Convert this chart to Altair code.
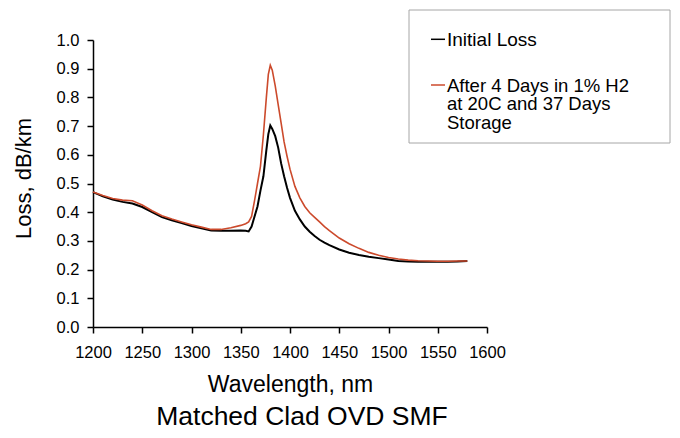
import altair as alt
import pandas as pd

wavelength = [1200, 1210, 1220, 1230, 1240, 1250, 1260, 1270, 1280, 1290, 1300, 1310,
              1320, 1330, 1340, 1350, 1355, 1358, 1361, 1364, 1367, 1370, 1373, 1376,
              1378, 1380, 1382, 1385, 1388, 1391, 1394, 1397, 1400, 1405, 1410, 1415,
              1420, 1425, 1430, 1435, 1440, 1450, 1460, 1470, 1480, 1490, 1500, 1510, 1520,
              1530, 1540, 1550, 1560, 1570, 1580]

initial_loss = [0.470, 0.455, 0.444, 0.436, 0.430, 0.418, 0.400, 0.383, 0.372, 0.362, 0.352, 0.344,
                0.336, 0.335, 0.335, 0.336, 0.335, 0.333, 0.350, 0.385, 0.420, 0.475, 0.525, 0.616,
                0.672, 0.702, 0.690, 0.665, 0.625, 0.570, 0.525, 0.485, 0.450, 0.405, 0.375, 0.350,
                0.332, 0.317, 0.304, 0.294, 0.285, 0.270, 0.259, 0.251, 0.245, 0.240, 0.235, 0.230, 0.228,
                0.227, 0.227, 0.227, 0.227, 0.228, 0.230]

after_h2 = [0.470, 0.458, 0.448, 0.442, 0.440, 0.425, 0.405, 0.388, 0.376, 0.366, 0.356, 0.348,
            0.340, 0.340, 0.346, 0.354, 0.360, 0.366, 0.385, 0.440, 0.500, 0.560, 0.670, 0.800,
            0.880, 0.912, 0.895, 0.840, 0.775, 0.710, 0.645, 0.595, 0.550, 0.490, 0.450, 0.420,
            0.398, 0.382, 0.366, 0.350, 0.336, 0.310, 0.290, 0.274, 0.260, 0.250, 0.242, 0.237, 0.233,
            0.231, 0.230, 0.229, 0.229, 0.230, 0.230]

series_names = ["Initial Loss", "After 4 Days in 1% H2\n\u00a0at 20C and 37 Days\nStorage"]
series_colors = ["#000000", "#cc4a2c"]

x_ticks = [1200, 1250, 1300, 1350, 1400, 1450, 1500, 1550, 1600]
y_ticks = [0.0, 0.1, 0.2, 0.3, 0.4, 0.5, 0.6, 0.7, 0.8, 0.9, 1.0]

FONT = "Liberation Sans"

df_init = pd.DataFrame({"wavelength": wavelength, "loss": initial_loss})
df_after = pd.DataFrame({"wavelength": wavelength, "loss": after_h2})
one = pd.DataFrame({"k": [0]})

x_enc = alt.X("wavelength:Q",
              scale=alt.Scale(domain=[1200, 1600], nice=False, zero=False),
              axis=alt.Axis(values=x_ticks, format="d", title="Wavelength, nm",
                            titleY=46, titleBaseline="top", titleFontSize=23,
                            labelPadding=11))
y_enc = alt.Y("loss:Q",
              scale=alt.Scale(domain=[0, 1], nice=False),
              axis=alt.Axis(values=y_ticks, format=".1f", title="Loss, dB/km",
                            titleX=-58, titleY=138, titleAngle=-90, titleBaseline="bottom",
                            titleFontSize=22, labelPadding=8))

line_init = alt.Chart(df_init).mark_line(color=series_colors[0], strokeWidth=2).encode(
    x=x_enc, y=y_enc)
line_after = alt.Chart(df_after).mark_line(color=series_colors[1], strokeWidth=1.6).encode(
    x=x_enc, y=y_enc)

box = alt.Chart(one).mark_rect(fill="white", stroke="#a6a6a6", strokeWidth=1).encode(
    x=alt.value(316), x2=alt.value(577), y=alt.value(-30), y2=alt.value(103))

dash1 = alt.Chart(one).mark_rule(color=series_colors[0], strokeWidth=1.5).encode(
    x=alt.value(338), x2=alt.value(352), y=alt.value(-0.7))
dash2 = alt.Chart(one).mark_rule(color=series_colors[1], strokeWidth=1.5).encode(
    x=alt.value(338), x2=alt.value(352), y=alt.value(45))

text1 = alt.Chart(one).mark_text(align="left", baseline="alphabetic", fontSize=19,
                                 font=FONT, color="black").encode(
    x=alt.value(354), y=alt.value(5.7), text=alt.value(series_names[0]))
text2 = alt.Chart(one).mark_text(align="left", baseline="alphabetic", fontSize=18.5,
                                 lineHeight=18.5, lineBreak="\n", font=FONT, color="black").encode(
    x=alt.value(354), y=alt.value(51.7), text=alt.value(series_names[1]))

chart = alt.layer(line_init, line_after, box, dash1, dash2, text1, text2).properties(
    width=394, height=287,
    autosize=alt.AutoSizeParams(type="none"),
    padding={"left": 85, "top": 32, "right": 185, "bottom": 103},
    title=alt.TitleParams("Matched Clad OVD SMF", orient="bottom", anchor="middle",
                          fontSize=26.5, font=FONT, fontWeight="normal", color="black",
                          offset=8, dx=12),
).configure_view(stroke=None).configure_axis(
    grid=False, domainColor="black", domainWidth=1.5, tickColor="black", tickWidth=1.5,
    tickSize=6, labelFont=FONT, labelFontSize=16.5, labelColor="black",
    titleFont=FONT, titleFontWeight="normal", titleColor="black",
    labelFlush=False
)

chart.save("out.html", embed_options={"renderer": "svg", "actions": False})
